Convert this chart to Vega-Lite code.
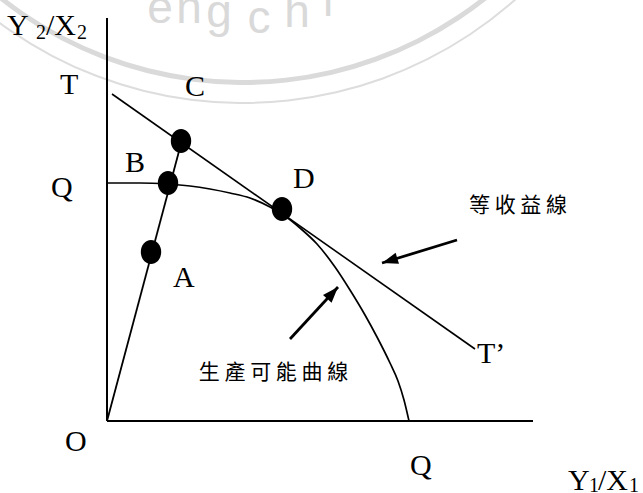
{
  "$schema": "https://vega.github.io/schema/vega-lite/v6.json",
  "width": 643,
  "height": 493,
  "autosize": {"type": "none"},
  "padding": 0,
  "background": "white",
  "config": {"view": {"stroke": null}},
  "datasets": {
    "ring": [{"cx": 136, "cy": 728}],
    "wm": [
      {"x": 53, "y": 398, "label": "e"},
      {"x": 82, "y": 398, "label": "n"},
      {"x": 112, "y": 394, "label": "g"},
      {"x": 152, "y": 388, "label": "c"},
      {"x": 190, "y": 394, "label": "h"},
      {"x": 221, "y": 405, "label": "i"}
    ],
    "axes": [
      {"x": 0, "y": 0, "x2": 0, "y2": 403},
      {"x": 0, "y": 0, "x2": 426, "y2": 0}
    ],
    "iso": [{"x": 5, "y": 327, "x2": 368, "y2": 72}],
    "ray": [{"x": 0, "y": 0, "x2": 75, "y2": 281}],
    "ppc": [
      {"x": 0, "y": 238}, {"x": 33, "y": 238}, {"x": 60, "y": 237}, {"x": 83, "y": 235},
      {"x": 103, "y": 232}, {"x": 123, "y": 228}, {"x": 143, "y": 223}, {"x": 163, "y": 214},
      {"x": 178, "y": 205}, {"x": 193, "y": 193}, {"x": 210, "y": 177}, {"x": 228, "y": 154},
      {"x": 243, "y": 131}, {"x": 258, "y": 106}, {"x": 270, "y": 84}, {"x": 283, "y": 58},
      {"x": 291, "y": 40}, {"x": 297, "y": 21}, {"x": 302, "y": 0}
    ],
    "dots": [
      {"name": "A", "x": 44, "y": 169},
      {"name": "B", "x": 61, "y": 238},
      {"name": "C", "x": 74, "y": 280},
      {"name": "D", "x": 175, "y": 212}
    ],
    "arrow1": [{"x": 350, "y": 181, "x2": 275, "y2": 158}],
    "arrow2": [{"x": 183, "y": 82, "x2": 231, "y2": 134}],
    "labels": [
      {"x": -47, "y": 327, "label": "T"},
      {"x": 78, "y": 325, "label": "C"},
      {"x": 18, "y": 249, "label": "B"},
      {"x": -56, "y": 224, "label": "Q"},
      {"x": 186, "y": 233, "label": "D"},
      {"x": 66, "y": 134, "label": "A"},
      {"x": 370, "y": 58, "label": "T’"},
      {"x": -42, "y": -30, "label": "O"},
      {"x": 303, "y": -54, "label": "Q"},
      {"x": -100, "y": 386, "label": "Y"},
      {"x": -61, "y": 386, "label": "/X"},
      {"x": 461, "y": -69, "label": "Y"},
      {"x": 491, "y": -69, "label": "/X"}
    ],
    "subs": [
      {"x": -71, "y": 382, "label": "2"},
      {"x": -30, "y": 382, "label": "2"},
      {"x": 482, "y": -71, "label": "1"},
      {"x": 522, "y": -71, "label": "1"}
    ],
    "cjk": [
      {"x": 166.5, "y": 48, "label": "生 產 可 能 曲 線"},
      {"x": 411, "y": 215, "label": "等 收 益 線"}
    ]
  },
  "layer": [
    {
      "data": {"name": "ring"},
      "mark": {"type": "arc", "radius": 392, "radius2": 387, "theta": 2.2, "theta2": 4.1, "color": "#dadada", "clip": false},
      "encoding": {
        "x": {"field": "cx", "type": "quantitative", "scale": {"domain": [-107, 536], "nice": false, "zero": false}, "axis": null},
        "y": {"field": "cy", "type": "quantitative", "scale": {"domain": [-72, 421], "nice": false, "zero": false}, "axis": null}
      }
    },
    {
      "data": {"name": "ring"},
      "mark": {"type": "arc", "radius": 411, "radius2": 409, "theta": 2.2, "theta2": 4.1, "color": "#dddddd", "clip": false},
      "encoding": {
        "x": {"field": "cx", "type": "quantitative"},
        "y": {"field": "cy", "type": "quantitative"}
      }
    },
    {
      "data": {"name": "wm"},
      "mark": {"type": "text", "font": "Liberation Sans", "fontSize": 46, "color": "#d9d9d9", "align": "center", "baseline": "alphabetic"},
      "encoding": {
        "x": {"field": "x", "type": "quantitative"},
        "y": {"field": "y", "type": "quantitative"},
        "text": {"field": "label"}
      }
    },
    {
      "data": {"name": "axes"},
      "mark": {"type": "rule", "color": "black", "strokeWidth": 2},
      "encoding": {
        "x": {"field": "x", "type": "quantitative"},
        "y": {"field": "y", "type": "quantitative"},
        "x2": {"field": "x2"},
        "y2": {"field": "y2"}
      }
    },
    {
      "data": {"name": "iso"},
      "mark": {"type": "rule", "color": "black", "strokeWidth": 1.6},
      "encoding": {
        "x": {"field": "x", "type": "quantitative"},
        "y": {"field": "y", "type": "quantitative"},
        "x2": {"field": "x2"},
        "y2": {"field": "y2"}
      }
    },
    {
      "data": {"name": "ray"},
      "mark": {"type": "rule", "color": "black", "strokeWidth": 1.8},
      "encoding": {
        "x": {"field": "x", "type": "quantitative"},
        "y": {"field": "y", "type": "quantitative"},
        "x2": {"field": "x2"},
        "y2": {"field": "y2"}
      }
    },
    {
      "data": {"name": "ppc"},
      "mark": {"type": "line", "color": "black", "strokeWidth": 1.7, "interpolate": "monotone"},
      "encoding": {
        "x": {"field": "x", "type": "quantitative"},
        "y": {"field": "y", "type": "quantitative"}
      }
    },
    {
      "data": {"name": "arrow1"},
      "mark": {"type": "rule", "color": "black", "strokeWidth": 2.8},
      "encoding": {
        "x": {"field": "x", "type": "quantitative"},
        "y": {"field": "y", "type": "quantitative"},
        "x2": {"field": "x2"},
        "y2": {"field": "y2"}
      }
    },
    {
      "data": {"name": "arrow1"},
      "mark": {"type": "point", "shape": "M0,0L0.36,1L-0.36,1Z", "size": 1024, "filled": true, "color": "black", "opacity": 1, "angle": 253},
      "encoding": {
        "x": {"field": "x2", "type": "quantitative"},
        "y": {"field": "y2", "type": "quantitative"}
      }
    },
    {
      "data": {"name": "arrow2"},
      "mark": {"type": "rule", "color": "black", "strokeWidth": 2.8},
      "encoding": {
        "x": {"field": "x", "type": "quantitative"},
        "y": {"field": "y", "type": "quantitative"},
        "x2": {"field": "x2"},
        "y2": {"field": "y2"}
      }
    },
    {
      "data": {"name": "arrow2"},
      "mark": {"type": "point", "shape": "M0,0L0.36,1L-0.36,1Z", "size": 1024, "filled": true, "color": "black", "opacity": 1, "angle": 42},
      "encoding": {
        "x": {"field": "x2", "type": "quantitative"},
        "y": {"field": "y2", "type": "quantitative"}
      }
    },
    {
      "data": {"name": "dots"},
      "mark": {"type": "point", "shape": "M-0.85,0A0.85,1 0 1,0 0.85,0A0.85,1 0 1,0 -0.85,0Z", "size": 576, "filled": true, "color": "black", "opacity": 1},
      "encoding": {
        "x": {"field": "x", "type": "quantitative"},
        "y": {"field": "y", "type": "quantitative"}
      }
    },
    {
      "data": {"name": "labels"},
      "mark": {"type": "text", "font": "Liberation Serif", "fontSize": 30, "color": "black", "align": "left", "baseline": "alphabetic"},
      "encoding": {
        "x": {"field": "x", "type": "quantitative"},
        "y": {"field": "y", "type": "quantitative"},
        "text": {"field": "label"}
      }
    },
    {
      "data": {"name": "subs"},
      "mark": {"type": "text", "font": "Liberation Serif", "fontSize": 20, "color": "black", "align": "left", "baseline": "alphabetic"},
      "encoding": {
        "x": {"field": "x", "type": "quantitative"},
        "y": {"field": "y", "type": "quantitative"},
        "text": {"field": "label"}
      }
    },
    {
      "data": {"name": "cjk"},
      "mark": {"type": "text", "font": "Noto Sans CJK TC", "fontSize": 21, "color": "black", "align": "center", "baseline": "middle"},
      "encoding": {
        "x": {"field": "x", "type": "quantitative"},
        "y": {"field": "y", "type": "quantitative"},
        "text": {"field": "label"}
      }
    }
  ]
}
